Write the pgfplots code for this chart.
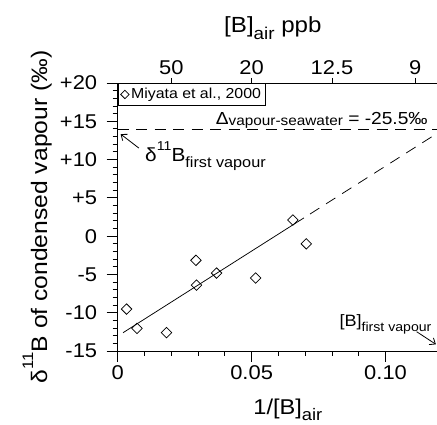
\documentclass[border=0pt]{standalone}
\usepackage{fontspec}
\setmainfont[FakeStretch=1.1]{Liberation Sans}
\usepackage{graphicx}
\usepackage{pgfplots}
\pgfplotsset{compat=1.18}
\usetikzlibrary{arrows.meta}
\newcommand\fs[1]{\fontsize{#1}{#1}\selectfont}
\newcommand\sub[1]{\raisebox{-0.28em}{\scalebox{0.78}{#1}}}
\newcommand\subb[1]{\raisebox{-0.06em}{\scalebox{0.8}{#1}}}
\newcommand\sups[1]{\raisebox{0.62em}{\scalebox{0.68}{#1}}}
\begin{document}
\begin{tikzpicture}
\begin{axis}[
  name=main,
  scale only axis,
  width=319.3bp, height=268bp,
  xmin=0, xmax=0.1192,
  ymin=-15, ymax=20,
  clip=false,
  axis x line*=bottom, axis y line*=left,
  axis line style={line width=0.9bp, -},
  xtick={0,0.05,0.1}, xticklabels={0,0.05,0.10},
  ytick={-15,-10,-5,0,5,10,15,20}, yticklabels={-15,-10,-5,0,+5,+10,+15,+20},
  minor x tick num=4, minor y tick num=4,
  tick align=outside,
  major tick length=11bp, minor tick length=5bp,
  every tick/.style={black, line width=0.9bp},
  /pgf/number format/assume math mode=true,
  tick label style={font=\fs{20}},
  yticklabel style={xshift=-6bp},
  xlabel={1/[B]\sub{air}},
  xlabel style={font=\fs{21.5}, at={(axis description cs:0.533,-0.2388)}, anchor=base},
  ylabel={δ\sups{11}B of condensed vapour (‰)},
  ylabel style={font=\fs{22.5}, at={(axis description cs:-0.2214,0.5)}, anchor=base},
  legend style={at={(0,1)}, anchor=north west, draw=black, line width=0.9bp,
    font=\fs{14.5}, inner xsep=2.5bp, inner ysep=3bp, cells={anchor=west}},
  legend image code/.code={\draw[#1, mark size=3bp] plot coordinates {(0.1cm,0cm)};},
]
\coordinate (ll) at (rel axis cs:0,0);
\addplot[forget plot, black, line width=0.75bp] coordinates {(0.002,-12.61) (0.0695,2.38)};
\addplot[forget plot, black, line width=0.75bp, dash pattern=on 11bp off 8bp] coordinates {(0.0718,2.89) (0.1192,13.41)};
\addplot[forget plot, black, line width=0.85bp, dash pattern=on 11bp off 7.5bp] coordinates {(0,14) (0.1192,14)};
\addplot[only marks, mark=square, mark size=3.7bp, mark options={rotate=45, fill=white, line width=0.75bp, solid}] coordinates {
(0.0033,-9.52) (0.0072,-12.04) (0.0182,-12.6) (0.0292,-3.16) (0.0294,-6.4)
(0.0369,-4.82) (0.0515,-5.47) (0.0654,2.1) (0.0704,-1.0)};
\addlegendentry{Miyata et al., 2000}
\node[anchor=base east, font=\fs{17.5}, inner sep=0pt] at (axis cs:0.1158,14.55) {Δ\subb{vapour-seawater} = -25.5‰};
\node[anchor=base west, font=\fs{19}, inner sep=0pt] at (axis cs:0.0102,9.71) {δ\sups{11}B\sub{first vapour}};
\draw[-{Straight Barb[length=5bp,width=8bp]}, line width=0.8bp] (axis cs:0.0079,11.5) -- (axis cs:0.0011,13.33);
\node[anchor=base east, font=\fs{16.5}, inner sep=0pt] at (axis cs:0.1172,-11.83) {[B]\sub{first vapour}};
\draw[-{Straight Barb[length=5bp,width=8bp]}, line width=0.8bp] (axis cs:0.1116,-12.48) -- (axis cs:0.1188,-14.13);
\end{axis}
\begin{axis}[
  scale only axis,
  width=319.3bp, height=268bp,
  xmin=0, xmax=0.1192,
  ymin=-15, ymax=20,
  axis x line*=top, axis y line=none,
  axis line style={line width=0.9bp, -},
  xtick={0.02,0.05,0.08,0.11111}, xticklabels={50,20,12.5,9},
  tick align=outside,
  major tick length=5bp,
  every tick/.style={black, line width=0.9bp},
  tick label style={font=\fs{20}},
  xlabel={[B]\sub{air} ppb},
  xlabel style={font=\fs{22}, at={(axis description cs:0.486,1.1866)}, anchor=base},
]
\end{axis}
\pgfresetboundingbox
\path[use as bounding box] ([shift={(-117.7bp,-74bp)}]ll) rectangle ([shift={(319.3bp,351bp)}]ll);
\end{tikzpicture}
\end{document}
